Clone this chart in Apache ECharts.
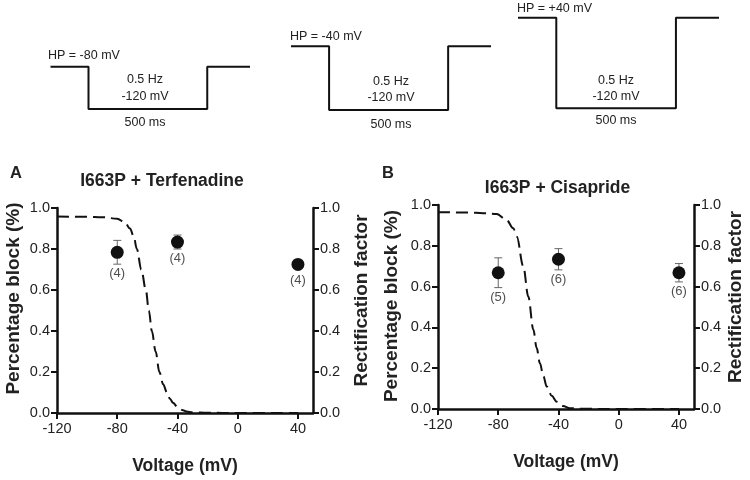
<!DOCTYPE html>
<html><head><meta charset="utf-8">
<script src="https://cdn.jsdelivr.net/npm/echarts@6/dist/echarts.min.js"></script>
<style>html,body{margin:0;padding:0;background:#fff}#c{width:750px;height:480px}</style>
</head><body><div id="c"></div>
<script>
// ---------- data ----------
const voltageTicks = [-120, -80, -40, 0, 40];
const testVoltages = [-80, -40, 40];

const terfMean = [0.784, 0.834, 0.725];
const terfErr  = [0.058, 0.034, 0.010];
const terfN    = [4, 4, 4];

const cisMean = [0.668, 0.734, 0.668];
const cisErr  = [0.073, 0.052, 0.045];
const cisN    = [5, 6, 6];

// rectification factor (dashed curve)
const rectVA = [-120, -100, -90, -80, -75, -71.5, -69, -67, -64, -61, -59, -57, -54.5, -52, -49.5, -47, -45, -43, -40, -37, -34, -30, -20, 0, 40];
const rectFA = [0.958, 0.957, 0.955, 0.948, 0.93, 0.90, 0.86, 0.80, 0.70, 0.60, 0.50, 0.40, 0.30, 0.20, 0.14, 0.10, 0.07, 0.05, 0.03, 0.015, 0.007, 0.003, 0.001, 0, 0];
const rectVB = [-120, -100, -90, -81, -74.4, -70, -67.7, -63.4, -60, -56.7, -54.5, -52.3, -50, -47.8, -44.5, -41.2, -37, -32.4, -25, 0, 40];
const rectFB = [0.965, 0.963, 0.96, 0.956, 0.926, 0.886, 0.845, 0.70, 0.55, 0.39, 0.30, 0.224, 0.16, 0.11, 0.065, 0.036, 0.015, 0.004, 0.001, 0, 0];

// voltage protocols
const holdingPotentials = [-80, -40, 40];
const pulsePotential = -120;
const protocolTimes = [0, 160, 160, 660, 660, 840]; // ms
const protocolFreq = '0.5 Hz';
const pulseDurationLabel = '500 ms';

const titles = ['I663P + Terfenadine', 'I663P + Cisapride'];
const panelLetters = ['A', 'B'];

// ---------- styles / layout ----------
const FONT = '"Liberation Sans", Arial, Helvetica, sans-serif';
const INK = '#111';
const TXT = '#222';

const protoGrids = [
  {left: 50.5, top: 66.7, width: 199.5, height: 42.3},
  {left: 291, top: 46.2, width: 200, height: 63.8},
  {left: 518, top: 17.8, width: 201, height: 90.5}
];
const panelGrids = [
  {left: 57, top: 208, width: 256, height: 205},
  {left: 438, top: 205, width: 256, height: 204}
];

const grids = [], xAxes = [], yAxes = [], series = [], graphics = [];

// protocol diagrams
holdingPotentials.forEach((hp, i) => {
  grids.push(protoGrids[i]);
  const gi = grids.length - 1;
  xAxes.push({type: 'value', gridIndex: gi, min: 0, max: protocolTimes[protocolTimes.length - 1], show: false});
  yAxes.push({type: 'value', gridIndex: gi, min: pulsePotential, max: hp, show: false});
  const levels = [hp, hp, pulsePotential, pulsePotential, hp, hp];
  series.push({
    type: 'line', xAxisIndex: gi, yAxisIndex: gi, clip: false, showSymbol: false, silent: true,
    data: protocolTimes.map((t, k) => [t, levels[k]]),
    lineStyle: {color: INK, width: 2}
  });
});

function fmtHP(hp) { return 'HP = ' + (hp > 0 ? '+' : '') + hp + ' mV'; }
const hpTextPos = [[48, 56], [290, 36.5], [517, 8.5]];
const midTextX = [145, 391, 616];
const hzY = [80, 81.5, 80.5], mvY = [96.5, 97.5, 96.5], msY = [123, 125, 121];
holdingPotentials.forEach((hp, i) => {
  const base = {fontFamily: FONT, fontSize: 12.5, fill: TXT};
  graphics.push({type: 'text', x: hpTextPos[i][0], y: hpTextPos[i][1], style: Object.assign({text: fmtHP(hp), align: 'left', verticalAlign: 'middle'}, base)});
  graphics.push({type: 'text', x: midTextX[i], y: hzY[i], style: Object.assign({text: protocolFreq, align: 'center', verticalAlign: 'middle'}, base)});
  graphics.push({type: 'text', x: midTextX[i], y: mvY[i], style: Object.assign({text: pulsePotential + ' mV', align: 'center', verticalAlign: 'middle'}, base)});
  graphics.push({type: 'text', x: midTextX[i], y: msY[i], style: Object.assign({text: pulseDurationLabel, align: 'center', verticalAlign: 'middle'}, base)});
});

// panels
const panels = [
  {mean: terfMean, err: terfErr, n: terfN, rv: rectVA, rf: rectFA},
  {mean: cisMean, err: cisErr, n: cisN, rv: rectVB, rf: rectFB}
];
const leftNameGap = [34, 37], rightNameGap = [39, 32];
const leftNameShift = [24, 2], rightNameShift = [20, 20];

function yAxis(gi, pos, name, gap, shift) {
  return {
    type: 'value', gridIndex: gi, position: pos, min: 0, max: 1, interval: 0.2,
    name: name, nameLocation: 'middle', nameGap: gap, nameRotate: 90,
    nameTextStyle: {fontFamily: FONT, fontSize: 19, fontWeight: 'bold', color: TXT, padding: [0, 0, 0, shift]},
    axisLine: {show: true, onZero: false, lineStyle: {color: INK, width: 2.5}},
    axisTick: {show: true, length: 6, lineStyle: {color: INK, width: 2}},
    axisLabel: {fontFamily: FONT, fontSize: 14.5, color: TXT, margin: 7, formatter: v => v.toFixed(1)},
    splitLine: {show: false}
  };
}

panels.forEach((p, k) => {
  grids.push(panelGrids[k]);
  const gi = grids.length - 1;
  xAxes.push({
    type: 'value', gridIndex: gi, min: -120, max: 50,
    name: 'Voltage (mV)', nameLocation: 'middle', nameGap: 44,
    nameTextStyle: {fontFamily: FONT, fontSize: 17.5, fontWeight: 'bold', color: TXT},
    axisLine: {onZero: false, lineStyle: {color: INK, width: 2.5}},
    axisTick: {customValues: voltageTicks, length: 6, lineStyle: {color: INK, width: 2}},
    axisLabel: {customValues: voltageTicks, fontFamily: FONT, fontSize: 14.5, color: TXT, margin: 8},
    splitLine: {show: false}
  });
  const xi = xAxes.length - 1;
  yAxes.push(yAxis(gi, 'left', 'Percentage block (%)', leftNameGap[k], leftNameShift[k]));
  const yl = yAxes.length - 1;
  yAxes.push(yAxis(gi, 'right', 'Rectification factor', rightNameGap[k], rightNameShift[k]));
  const yr = yAxes.length - 1;

  // rectification factor curve (right axis)
  series.push({
    type: 'line', xAxisIndex: xi, yAxisIndex: yr, showSymbol: false, silent: true,
    smooth: 0.35, smoothMonotone: 'x', clip: false,
    data: p.rv.map((v, i) => [v, p.rf[i]]),
    lineStyle: {color: INK, width: 2, type: [12, 6]}, z: 2
  });
  // error bars
  series.push({
    type: 'custom', xAxisIndex: xi, yAxisIndex: yl, silent: true, z: 3,
    data: testVoltages.map((v, i) => [v, p.mean[i] - p.err[i], p.mean[i] + p.err[i]]),
    encode: {x: 0, y: [1, 2]},
    renderItem(params, api) {
      const lo = api.coord([api.value(0), api.value(1)]);
      const hi = api.coord([api.value(0), api.value(2)]);
      const w = 4, st = {stroke: '#666', lineWidth: 1};
      return {type: 'group', children: [
        {type: 'line', shape: {x1: hi[0], y1: hi[1], x2: lo[0], y2: lo[1]}, style: st},
        {type: 'line', shape: {x1: hi[0] - w, y1: hi[1], x2: hi[0] + w, y2: hi[1]}, style: st},
        {type: 'line', shape: {x1: lo[0] - w, y1: lo[1], x2: lo[0] + w, y2: lo[1]}, style: st}
      ]};
    }
  });
  // means
  series.push({
    type: 'scatter', xAxisIndex: xi, yAxisIndex: yl, symbol: 'circle', symbolSize: 13, z: 4,
    data: testVoltages.map((v, i) => [v, p.mean[i]]),
    itemStyle: {color: INK, opacity: 1}
  });
  // n labels (below error bar / marker)
  series.push({
    type: 'scatter', xAxisIndex: xi, yAxisIndex: yl, symbolSize: 0, z: 5, silent: true,
    data: testVoltages.map((v, i) => ({value: [v, p.mean[i] - Math.max(p.err[i], 0.033)], n: p.n[i]})),
    label: {show: true, position: 'bottom', distance: 3, fontFamily: FONT, fontSize: 13, color: '#222',
      formatter: prm => '(' + prm.data.n + ')'}
  });
});

// titles and panel letters
const titlePos = [[162, 181.5], [557.5, 188]];
const letterPos = [[16, 173], [388, 173]];
titles.forEach((t, i) => {
  graphics.push({type: 'text', x: titlePos[i][0], y: titlePos[i][1],
    style: {text: t, fontFamily: FONT, fontSize: 17.5, fontWeight: 'bold', fill: TXT, align: 'center', verticalAlign: 'middle'}});
  graphics.push({type: 'text', x: letterPos[i][0], y: letterPos[i][1],
    style: {text: panelLetters[i], fontFamily: FONT, fontSize: 16.5, fontWeight: 'bold', fill: TXT, align: 'center', verticalAlign: 'middle'}});
});

const chart = echarts.init(document.getElementById('c'), null, {renderer: 'canvas'});
chart.setOption({
  animation: false,
  backgroundColor: '#fff',
  grid: grids,
  xAxis: xAxes,
  yAxis: yAxes,
  series: series,
  graphic: graphics
});
</script>
</body></html>
